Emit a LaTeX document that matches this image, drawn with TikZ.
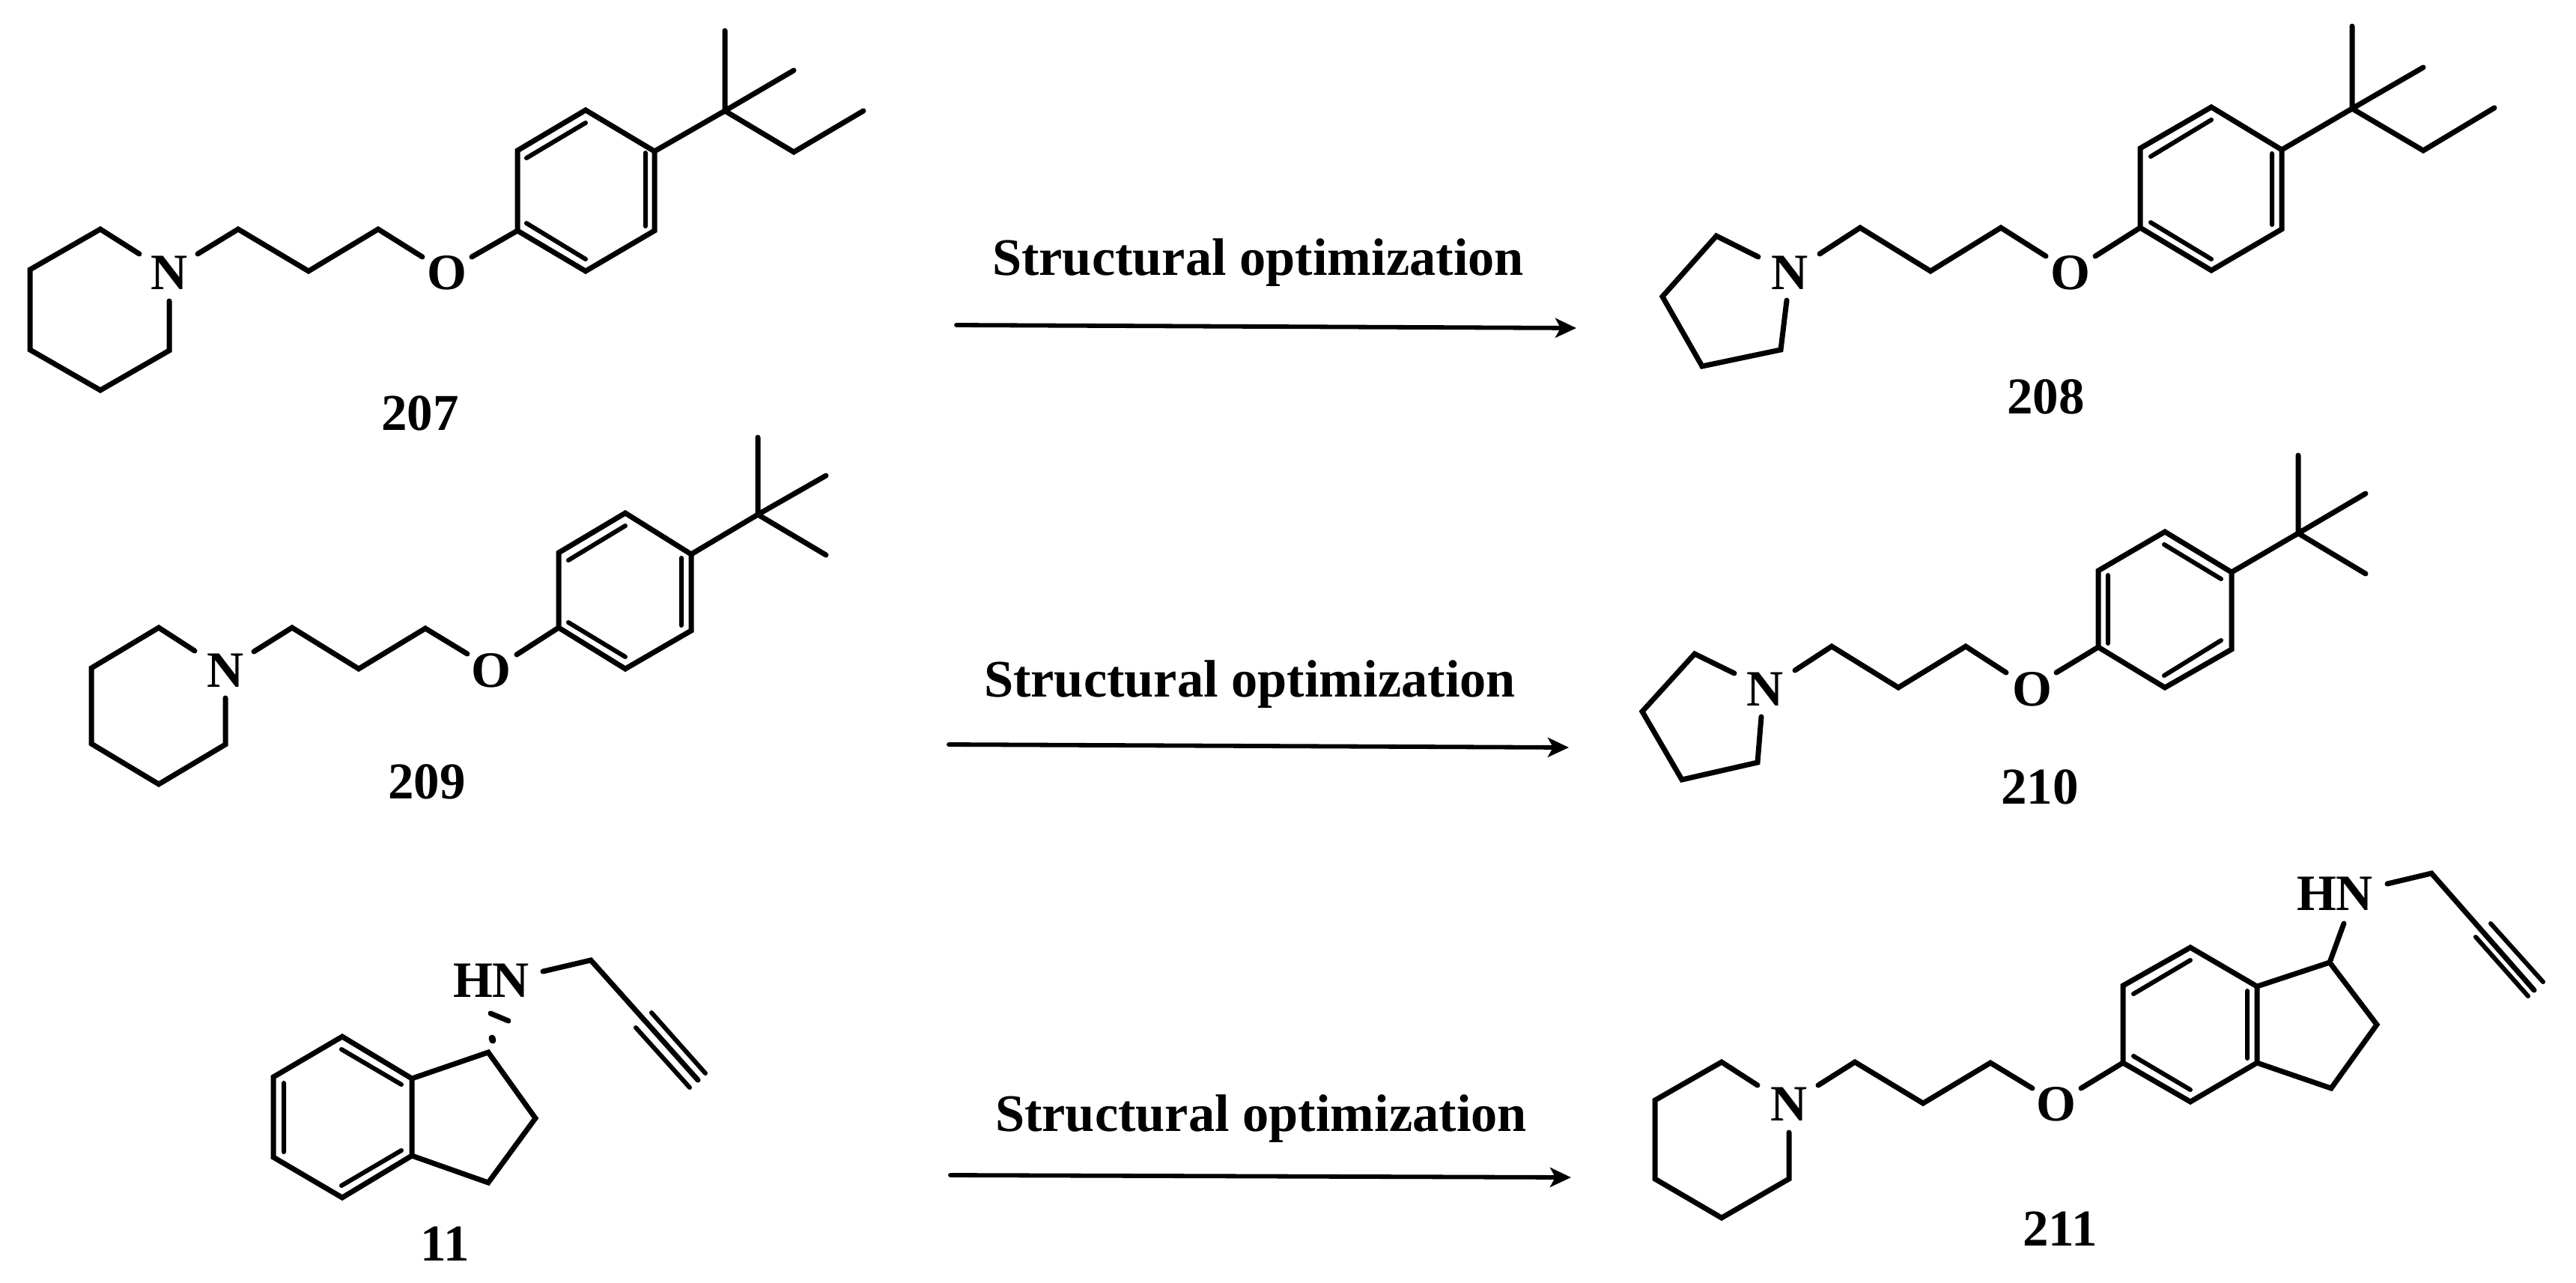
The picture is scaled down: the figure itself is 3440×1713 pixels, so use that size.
\documentclass[tikz,border=0pt]{standalone}
\usepackage{fontspec}
\setmainfont{Liberation Serif}
\usetikzlibrary{arrows.meta}
\tikzset{
  bond/.style={line width=7pt,line cap=round,line join=miter,miter limit=4,black},
  inner/.style={line width=6pt,line cap=round,black},
  rxn/.style={line width=5.8pt,line cap=round,black,-{Stealth[length=28pt,width=26pt,inset=7pt]}},
  atom/.style={anchor=base,inner sep=0pt,font=\fontsize{68}{68}\selectfont\bfseries},
  compound/.style={anchor=base,inner sep=0pt,font=\fontsize{69}{69}\selectfont\bfseries},
  caption/.style={anchor=base,inner sep=0pt,font=\fontsize{70.4}{70.4}\selectfont\bfseries}
}
\begin{document}
\begin{tikzpicture}[x=1pt,y=-1pt]
\fill[white] (0,0) rectangle (3440,1713);
\useasboundingbox (0,0) rectangle (3440,1713);

% ---------- 207
\node[atom] (n207) at (226,386) {N};
\node[atom] (o207) at (597,386) {O};
\node[compound] (l207) at (561,574) {207};
\draw[bond] (186,339) -- (134,306) -- (40,360) -- (40,467) -- (134,521) -- (226,468) -- (226,402);
\draw[bond] (264,339) -- (318,306) -- (412,362) -- (505,306) -- (564,343);
\draw[bond] (630,343) -- (691,308) -- (691,201) -- (782,147) -- (874,202) -- (874,308) -- (782,362) -- (691,308);
\draw[inner] (703,211) -- (782,164) (862,204) -- (862,302) (703,298) -- (782,346);
\draw[bond] (874,202) -- (968,148) -- (1060,203) -- (1153,148);
\draw[bond] (968,41) -- (968,148) -- (1060,94);

% ---------- 208
\node[atom] (n208) at (2390,386) {N};
\node[atom] (o208) at (2765,386) {O};
\node[compound] (l208) at (2732,552) {208};
\draw[bond] (2348,343) -- (2292,315) -- (2220,396) -- (2273,489) -- (2378,467) -- (2386,401);
\draw[bond] (2430,339) -- (2484,304) -- (2578,362) -- (2672,304) -- (2732,342);
\draw[bond] (2798,342) -- (2858,304) -- (2858,198) -- (2953,143) -- (3047,200) -- (3047,306) -- (2953,361) -- (2858,304);
\draw[inner] (2872,209) -- (2953,160) (3034,205) -- (3034,300) (2872,297) -- (2953,346);
\draw[bond] (3047,200) -- (3141,145) -- (3236,201) -- (3331,144);
\draw[bond] (3141,35) -- (3141,145) -- (3236,90);

% ---------- 209
\node[atom] (n209) at (301,917) {N};
\node[atom] (o209) at (656,917) {O};
\node[compound] (l209) at (570,1066) {209};
\draw[bond] (260,869) -- (212,838) -- (122,892) -- (122,993) -- (212,1047) -- (301,994) -- (301,932);
\draw[bond] (339,870) -- (390,838) -- (479,893) -- (568,839) -- (624,873);
\draw[bond] (690,874) -- (746,838) -- (746,738) -- (835,685) -- (923,740) -- (923,842) -- (835,893) -- (746,838);
\draw[inner] (759,748) -- (835,702) (910,745) -- (910,835) (759,831) -- (835,877);
\draw[bond] (923,740) -- (1012,687) -- (1103,741);
\draw[bond] (1012,584) -- (1012,687) -- (1103,635);

% ---------- 210
\node[atom] (n210) at (2357,942) {N};
\node[atom] (o210) at (2714,942) {O};
\node[compound] (l210) at (2724,1073) {210};
\draw[bond] (2316,899) -- (2263,873) -- (2193,950) -- (2246,1041) -- (2347,1018) -- (2352,957);
\draw[bond] (2397,895) -- (2446,863) -- (2535,918) -- (2625,863) -- (2679,898);
\draw[bond] (2746,898) -- (2802,864) -- (2802,762) -- (2891,710) -- (2980,764) -- (2980,867) -- (2891,918) -- (2802,864);
\draw[inner] (2815,768) -- (2815,859) (2890,727) -- (2966,773) (2890,902) -- (2966,855);
\draw[bond] (2980,764) -- (3069,712) -- (3159,766);
\draw[bond] (3069,608) -- (3069,712) -- (3159,659);

% ---------- 11
\node[atom] (hn11) at (656,1331) {HN};
\node[compound] (l11) at (594,1683) {11};
\draw[bond] (550,1440) -- (457,1384) -- (365,1438) -- (365,1545) -- (457,1599) -- (550,1543) -- cycle;
\draw[inner] (456,1401) -- (536,1448) (379,1446) -- (379,1538) (456,1583) -- (536,1536);
\draw[bond] (550,1440) -- (652,1405) -- (715,1493) -- (652,1579) -- (550,1543);
\draw[bond] (655,1353) -- (679,1363);
\draw[bond,line width=9pt] (657,1386) -- (658,1389);
\draw[bond] (725,1297) -- (789,1282) -- (932,1442);
\draw[inner] (870,1352) -- (942,1433) (849,1372) -- (921,1452);

% ---------- 211
\node[atom] (n211) at (2389,1496) {N};
\node[atom] (o211) at (2746,1496) {O};
\node[atom] (hn211) at (3118,1215) {HN};
\node[compound] (l211) at (2751,1663) {211};
\draw[bond] (2347,1449) -- (2299,1418) -- (2210,1469) -- (2210,1574) -- (2299,1626) -- (2389,1574) -- (2389,1512);
\draw[bond] (2428,1449) -- (2477,1418) -- (2568,1473) -- (2658,1419) -- (2714,1453);
\draw[bond] (2779,1453) -- (2835,1419) -- (2835,1316) -- (2925,1265) -- (3014,1317) -- (3014,1419) -- (2925,1471) -- (2835,1419);
\draw[inner] (2849,1327) -- (2925,1282) (3001,1323) -- (3001,1413) (2849,1410) -- (2925,1455);
\draw[bond] (3014,1317) -- (3111,1285) -- (3174,1368) -- (3113,1453) -- (3014,1419);
\draw[bond] (3111,1285) -- (3130,1233);
\draw[bond] (3188,1180) -- (3247,1166) -- (3384,1322);
\draw[inner] (3326,1233) -- (3396,1311) (3306,1251) -- (3376,1330);

% ---------- reactions
\coordinate (a1s) at (1277,434); \coordinate (a1e) at (2105,438);
\coordinate (a2s) at (1267,994); \coordinate (a2e) at (2095,998);
\coordinate (a3s) at (1269,1569); \coordinate (a3e) at (2098,1572);
\node[caption] (t1) at (1680,367) {Structural optimization};
\node[caption] (t2) at (1669,930) {Structural optimization};
\node[caption] (t3) at (1684,1510) {Structural optimization};
\draw[rxn] (a1s) -- (a1e);
\draw[rxn] (a2s) -- (a2e);
\draw[rxn] (a3s) -- (a3e);
\end{tikzpicture}
\end{document}
